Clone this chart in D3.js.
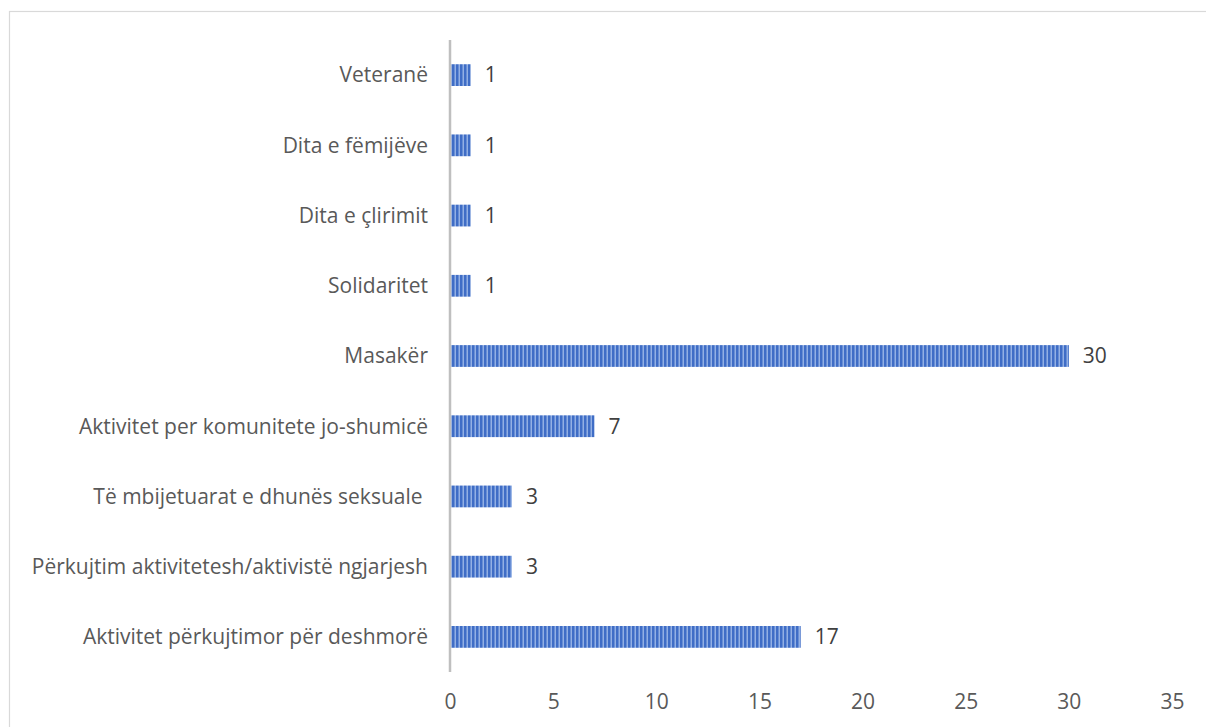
<!DOCTYPE html>
<html>
<head>
<meta charset="utf-8">
<script src="https://cdn.jsdelivr.net/npm/d3@7"></script>
<style>
  html, body { margin: 0; padding: 0; background: #fff; }
  svg { display: block; }
  text { font-family: "Open Sans", "Noto Sans", sans-serif; }
</style>
</head>
<body>
<svg id="chart" width="1206" height="727"></svg>
<script>
const categories = [
  "Veteranë",
  "Dita e fëmijëve",
  "Dita e çlirimit",
  "Solidaritet",
  "Masakër",
  "Aktivitet per komunitete jo-shumicë",
  "Të mbijetuarat e dhunës seksuale ",
  "Përkujtim aktivitetesh/aktivistë ngjarjesh",
  "Aktivitet përkujtimor për deshmorë"
];
const values = [1, 1, 1, 1, 30, 7, 3, 3, 17];
const tickValues = [0, 5, 10, 15, 20, 25, 30, 35];

const svg = d3.select("#chart");
const W = 1206, H = 727;
const FS = 21;

// outer chart border (extends past the window on right/bottom)
svg.append("rect")
  .attr("x", 9.5).attr("y", 11.5)
  .attr("width", W + 10).attr("height", H + 10)
  .attr("fill", "none").attr("stroke", "#d9d9d9").attr("stroke-width", 1.2);

const defs = svg.append("defs");
const pat = defs.append("pattern")
  .attr("id", "stripes")
  .attr("patternUnits", "userSpaceOnUse")
  .attr("width", 4).attr("height", 10);
pat.append("rect").attr("width", 4).attr("height", 10).attr("fill", "#3f6dc6");
pat.append("rect").attr("x", 2.5).attr("width", 1.5).attr("height", 10).attr("fill", "#93b0e4");

const x = d3.scaleLinear().domain([0, 35]).range([450, 1172]);
const y = d3.scaleBand().domain(categories).range([40, 672]).paddingInner(0.69).paddingOuter(0.345);

// bars
svg.append("g").selectAll("rect")
  .data(categories)
  .join("rect")
  .attr("x", x(0))
  .attr("y", d => y(d))
  .attr("width", (d, i) => x(values[i]) - x(0))
  .attr("height", y.bandwidth())
  .attr("fill", "url(#stripes)");

// vertical axis line
svg.append("line")
  .attr("x1", x(0)).attr("x2", x(0))
  .attr("y1", 40).attr("y2", 672)
  .attr("stroke", "#bfbfbf").attr("stroke-width", 2.5);

// category labels
svg.append("g").selectAll("text")
  .data(categories)
  .join("text")
  .attr("x", 428)
  .attr("y", d => y(d) + y.bandwidth() / 2)
  .attr("dy", "0.35em")
  .attr("text-anchor", "end")
  .attr("font-size", FS)
  .attr("fill", "#595959")
  .style("white-space", "pre")
  .text(d => d);

// value labels
svg.append("g").selectAll("text")
  .data(categories)
  .join("text")
  .attr("x", (d, i) => x(values[i]) + 14)
  .attr("y", d => y(d) + y.bandwidth() / 2)
  .attr("dy", "0.35em")
  .attr("font-size", FS)
  .attr("fill", "#404040")
  .text((d, i) => values[i]);

// x axis tick labels
const xAxis = d3.axisBottom(x).tickValues(tickValues).tickSize(0).tickPadding(0);
const gx = svg.append("g").attr("transform", "translate(0,672)").call(xAxis);
gx.select(".domain").remove();
gx.selectAll("text")
  .attr("y", 30)
  .attr("dy", "0.35em")
  .attr("font-size", FS)
  .attr("font-family", "'Open Sans', 'Noto Sans', sans-serif")
  .attr("fill", "#595959");
</script>
</body>
</html>
